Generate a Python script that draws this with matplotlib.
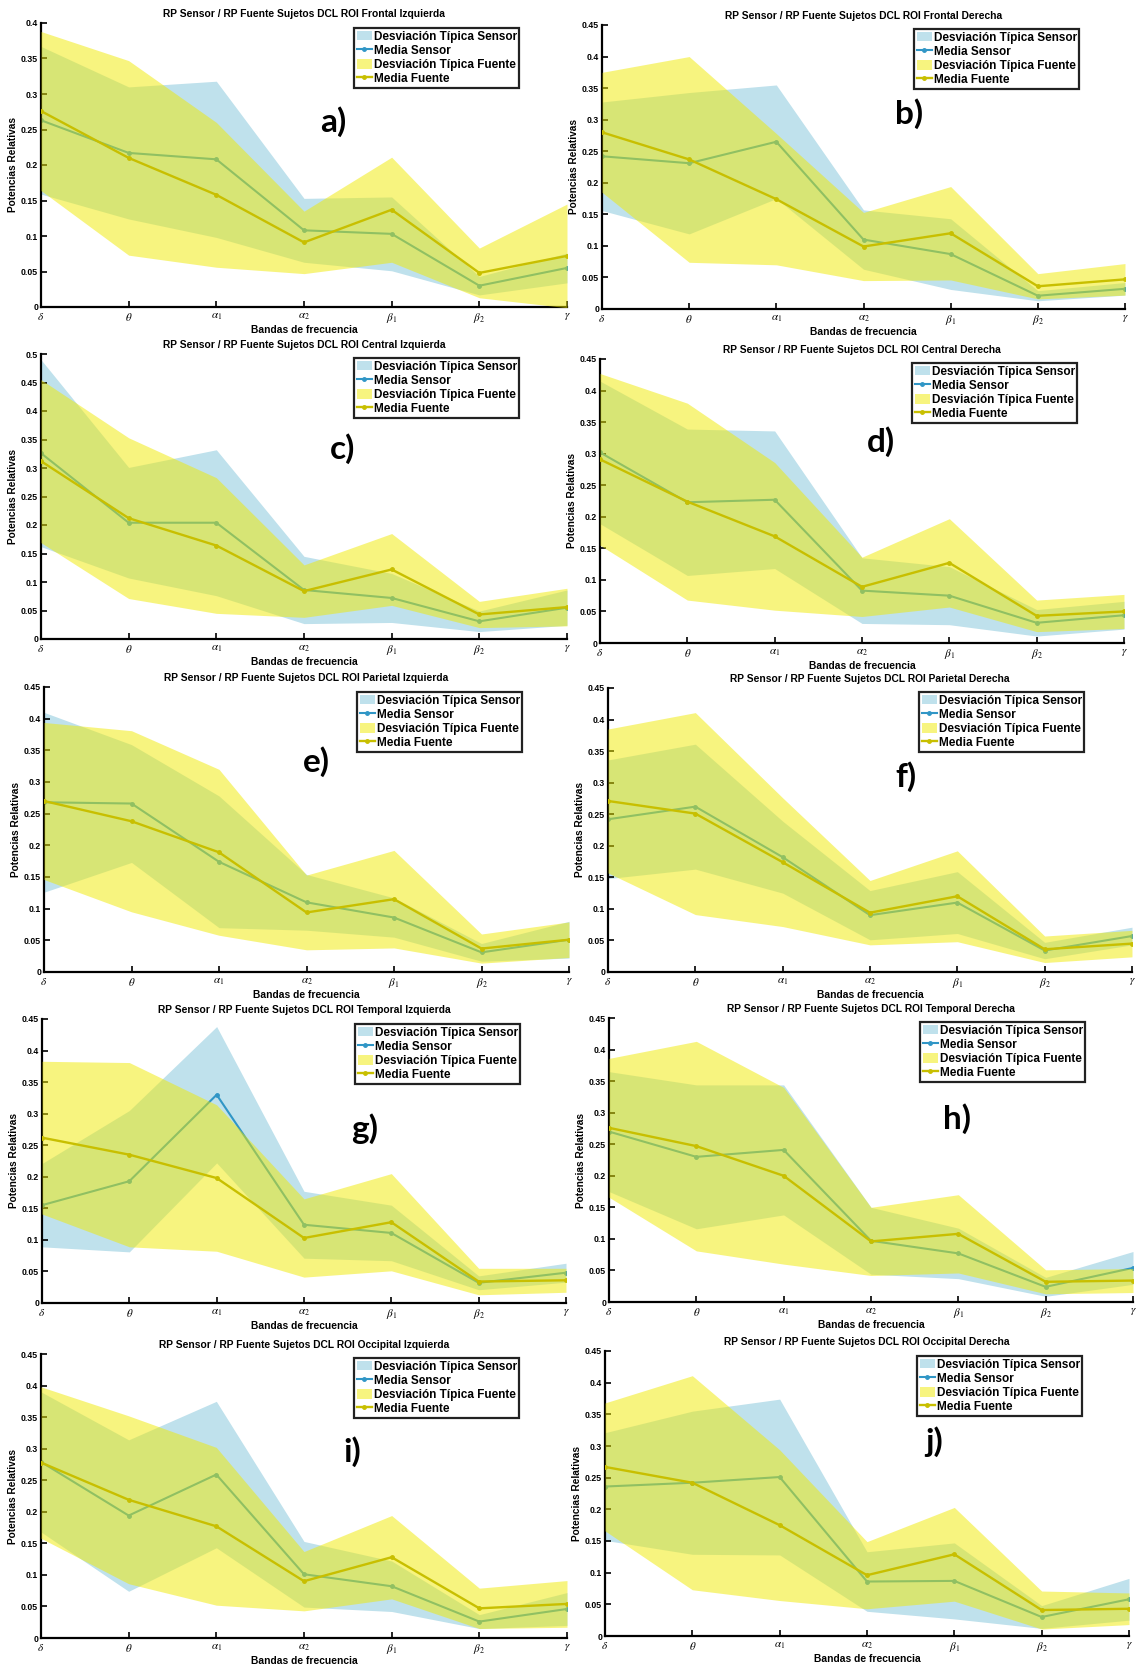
import matplotlib
matplotlib.use("Agg")
import matplotlib.pyplot as plt
from matplotlib.patches import Patch
from matplotlib.lines import Line2D
import numpy as np

plt.rcParams['font.family'] = ['Liberation Sans', 'DejaVu Sans']
plt.rcParams['mathtext.fontset'] = 'stix'

W, H, DPI = 1137, 1671, 100

bands = [r'$\delta$', r'$\theta$', r'$\alpha_1$', r'$\alpha_2$',
         r'$\beta_1$', r'$\beta_2$', r'$\gamma$']
legend_labels = ['Desviación Típica Sensor', 'Media Sensor',
                 'Desviación Típica Fuente', 'Media Fuente']
title_prefix = 'RP Sensor / RP Fuente Sujetos DCL ROI '

# Frontal Izquierda
fi_sensor_mean = [0.263, 0.217, 0.208, 0.108, 0.103, 0.030, 0.055]
fi_sensor_std = [0.104, 0.093, 0.110, 0.045, 0.052, 0.013, 0.021]
fi_fuente_mean = [0.276, 0.210, 0.158, 0.091, 0.137, 0.048, 0.072]
fi_fuente_std = [0.112, 0.137, 0.102, 0.044, 0.074, 0.035, 0.073]

# Frontal Derecha
fd_sensor_mean = [0.242, 0.231, 0.265, 0.110, 0.087, 0.021, 0.032]
fd_sensor_std = [0.086, 0.112, 0.090, 0.047, 0.056, 0.008, 0.010]
fd_fuente_mean = [0.280, 0.237, 0.174, 0.099, 0.120, 0.036, 0.047]
fd_fuente_std = [0.095, 0.163, 0.104, 0.054, 0.074, 0.020, 0.025]

# Central Izquierda
ci_sensor_mean = [0.326, 0.204, 0.204, 0.086, 0.072, 0.031, 0.055]
ci_sensor_std = [0.164, 0.097, 0.128, 0.059, 0.043, 0.018, 0.031]
ci_fuente_mean = [0.312, 0.212, 0.164, 0.084, 0.122, 0.043, 0.056]
ci_fuente_std = [0.143, 0.141, 0.119, 0.046, 0.063, 0.023, 0.033]

# Central Derecha
cd_sensor_mean = [0.302, 0.223, 0.227, 0.083, 0.075, 0.032, 0.044]
cd_sensor_std = [0.113, 0.116, 0.109, 0.052, 0.046, 0.021, 0.022]
cd_fuente_mean = [0.291, 0.224, 0.169, 0.089, 0.127, 0.043, 0.050]
cd_fuente_std = [0.136, 0.156, 0.117, 0.047, 0.070, 0.025, 0.027]

# Parietal Izquierda
pi_sensor_mean = [0.268, 0.266, 0.174, 0.110, 0.086, 0.031, 0.051]
pi_sensor_std = [0.142, 0.093, 0.104, 0.044, 0.031, 0.014, 0.029]
pi_fuente_mean = [0.270, 0.238, 0.189, 0.094, 0.115, 0.037, 0.051]
pi_fuente_std = [0.124, 0.143, 0.131, 0.059, 0.077, 0.023, 0.028]

# Parietal Derecha
pd_sensor_mean = [0.242, 0.262, 0.182, 0.090, 0.110, 0.034, 0.057]
pd_sensor_std = [0.094, 0.099, 0.057, 0.039, 0.049, 0.013, 0.014]
pd_fuente_mean = [0.271, 0.251, 0.174, 0.094, 0.120, 0.036, 0.045]
pd_fuente_std = [0.114, 0.160, 0.102, 0.051, 0.072, 0.021, 0.021]

# Temporal Izquierda
ti_sensor_mean = [0.155, 0.193, 0.330, 0.124, 0.111, 0.032, 0.048]
ti_sensor_std = [0.066, 0.112, 0.108, 0.053, 0.044, 0.011, 0.015]
ti_fuente_mean = [0.262, 0.235, 0.198, 0.103, 0.128, 0.034, 0.036]
ti_fuente_std = [0.121, 0.146, 0.116, 0.062, 0.077, 0.021, 0.019]

# Temporal Derecha
td_sensor_mean = [0.270, 0.230, 0.241, 0.097, 0.077, 0.024, 0.054]
td_sensor_std = [0.095, 0.114, 0.103, 0.053, 0.040, 0.015, 0.026]
td_fuente_mean = [0.276, 0.247, 0.200, 0.096, 0.108, 0.032, 0.034]
td_fuente_std = [0.110, 0.166, 0.140, 0.054, 0.062, 0.019, 0.019]

# Occipital Izquierda
oi_sensor_mean = [0.279, 0.194, 0.259, 0.101, 0.082, 0.026, 0.046]
oi_sensor_std = [0.111, 0.120, 0.116, 0.052, 0.040, 0.011, 0.026]
oi_fuente_mean = [0.278, 0.219, 0.177, 0.090, 0.128, 0.047, 0.054]
oi_fuente_std = [0.120, 0.133, 0.125, 0.047, 0.066, 0.032, 0.037]

# Occipital Derecha
od_sensor_mean = [0.236, 0.242, 0.251, 0.086, 0.087, 0.030, 0.058]
od_sensor_std = [0.085, 0.113, 0.123, 0.047, 0.060, 0.018, 0.033]
od_fuente_mean = [0.267, 0.242, 0.175, 0.096, 0.129, 0.041, 0.043]
od_fuente_std = [0.101, 0.169, 0.119, 0.053, 0.074, 0.030, 0.025]

regions = ['Frontal Izquierda', 'Frontal Derecha', 'Central Izquierda',
           'Central Derecha', 'Parietal Izquierda', 'Parietal Derecha',
           'Temporal Izquierda', 'Temporal Derecha', 'Occipital Izquierda',
           'Occipital Derecha']
panel_tags = ['a)', 'b)', 'c)', 'd)', 'e)', 'f)', 'g)', 'h)', 'i)', 'j)']
y_max = [0.40, 0.45, 0.50, 0.45, 0.45, 0.45, 0.45, 0.45, 0.45, 0.45]

series = [
    (fi_sensor_mean, fi_sensor_std, fi_fuente_mean, fi_fuente_std),
    (fd_sensor_mean, fd_sensor_std, fd_fuente_mean, fd_fuente_std),
    (ci_sensor_mean, ci_sensor_std, ci_fuente_mean, ci_fuente_std),
    (cd_sensor_mean, cd_sensor_std, cd_fuente_mean, cd_fuente_std),
    (pi_sensor_mean, pi_sensor_std, pi_fuente_mean, pi_fuente_std),
    (pd_sensor_mean, pd_sensor_std, pd_fuente_mean, pd_fuente_std),
    (ti_sensor_mean, ti_sensor_std, ti_fuente_mean, ti_fuente_std),
    (td_sensor_mean, td_sensor_std, td_fuente_mean, td_fuente_std),
    (oi_sensor_mean, oi_sensor_std, oi_fuente_mean, oi_fuente_std),
    (od_sensor_mean, od_sensor_std, od_fuente_mean, od_fuente_std),
]

# Layout in pixels: axes (left, right, top, bottom), legend top-left, tag centre
axes_px = [(41, 567, 23, 307), (602, 1125, 25, 309),
           (41, 567, 354, 639), (600, 1124, 359, 643),
           (44, 569, 687, 972), (608, 1132, 688, 972),
           (42, 566, 1019, 1303), (609, 1133, 1018, 1302),
           (41, 567, 1354, 1638), (605, 1129, 1351, 1636)]
legend_px = [(354, 28), (914, 29), (354, 358), (912, 363), (357, 692),
             (919, 692), (355, 1024), (920, 1022), (354, 1358), (917, 1356)]
tag_px = [(333, 122), (909, 114), (343, 449), (881, 442), (316, 762),
          (906, 777), (365, 1129), (957, 1119), (352, 1452), (934, 1442)]

sensor_fill = '#bfe1ec'
sensor_line = '#3096c6'
fuente_fill = '#f0ea00'
fuente_alpha = 0.5
fuente_line = '#c8bf00'

fig = plt.figure(figsize=(W / DPI, H / DPI), dpi=DPI)
x = np.arange(1, 8)

for k in range(10):
    l, r, t, b = axes_px[k]
    ax = fig.add_axes([l / W, 1 - b / H, (r - l) / W, (b - t) / H])
    sm, ss, fm, fs = [np.asarray(v) for v in series[k]]

    ax.fill_between(x, sm - ss, sm + ss, color=sensor_fill, lw=0, zorder=1)
    ax.plot(x, sm, '.-', color=sensor_line, lw=1.5, ms=5, zorder=2)
    ax.fill_between(x, fm - fs, fm + fs, color=fuente_fill,
                    alpha=fuente_alpha, lw=0, zorder=3)
    ax.plot(x, fm, '.-', color=fuente_line, lw=1.7, ms=5, zorder=4)

    ax.set_xlim(1, 7)
    ax.set_ylim(0, y_max[k])
    yt = np.arange(0, y_max[k] + 1e-9, 0.05)
    ax.set_yticks(yt)
    ax.set_yticklabels(['%g' % round(v, 2) for v in yt],
                       fontsize=6.3, fontweight='bold')
    ax.set_xticks(x)
    ax.set_xticklabels(bands, fontsize=8)
    ax.tick_params(direction='in', length=4, width=1.2, pad=2)
    ax.tick_params(axis='x', pad=3)
    for side in ('top', 'right'):
        ax.spines[side].set_visible(False)
    for side in ('left', 'bottom'):
        ax.spines[side].set_linewidth(1.6)

    ax.set_title(title_prefix + regions[k], fontsize=7.4,
                 fontweight='bold', pad=4)
    ax.set_xlabel('Bandas de frecuencia', fontsize=7.4,
                  fontweight='bold', labelpad=0)
    ax.set_ylabel('Potencias Relativas', fontsize=7.3,
                  fontweight='bold', labelpad=2)

    handles = [Patch(facecolor=sensor_fill, edgecolor='none'),
               Line2D([], [], color=sensor_line, marker='.', lw=1.5, ms=5),
               Patch(facecolor=fuente_fill, alpha=fuente_alpha,
                     edgecolor='none'),
               Line2D([], [], color=fuente_line, marker='.', lw=1.7, ms=5)]
    lx, ly = legend_px[k]
    leg = fig.legend(handles, legend_labels, loc='upper left',
                     bbox_to_anchor=(lx / W, 1 - ly / H),
                     bbox_transform=fig.transFigure, borderaxespad=0,
                     fancybox=False, framealpha=1, edgecolor='#222222',
                     prop={'weight': 'bold', 'size': 8.5},
                     handlelength=1.3, handleheight=0.9, handletextpad=0.15,
                     borderpad=0.22, labelspacing=0.18)
    leg.get_frame().set_linewidth(1.6)

    tx, ty = tag_px[k]
    fig.text(tx / W, 1 - ty / H, panel_tags[k], fontsize=24,
             fontweight='bold', family='Lato', ha='center', va='center')

fig.savefig('out.png', dpi=DPI)
